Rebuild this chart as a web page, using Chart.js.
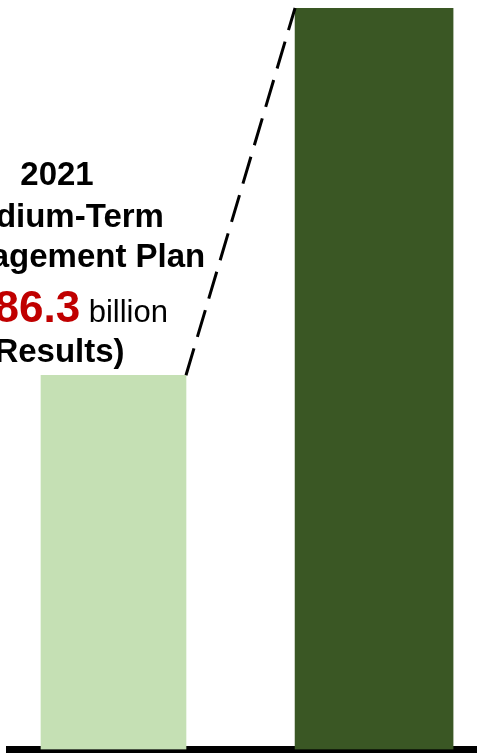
<!DOCTYPE html>
<html>
<head>
<meta charset="utf-8">
<title>Medium-Term Management Plan</title>
<script src="https://cdn.jsdelivr.net/npm/chart.js@4/dist/chart.umd.min.js"></script>
<style>
    html, body { margin: 0; padding: 0; background: #fff; }
    #wrap { width: 477px; height: 753px; position: relative; }
</style>
</head>
<body>
<div id="wrap"><canvas id="plan-chart"></canvas></div>
<script>
// Plans shown left to right and their amounts (billion yen)
const categories = ["2021 Medium-Term Management Plan", "Next Medium-Term Management Plan"];
const values = [86.3, 171];
const barColors = ["#c5e0b4", "#3a5724"];
const barWidths = [145, 158];

// Caption above the first bar
const captionLines = ["2021", "Medium-Term", "Management Plan"];
const captionValue = "86.3";
const captionUnit = "billion";
const captionNote = "(Results)";

document.addEventListener("DOMContentLoaded", function() {
    const ctx = document.getElementById("plan-chart").getContext("2d");
    const FONT = "'Liberation Sans', Arial, sans-serif";

    // dashed line joining the tops of the two bars
    const connector = {
        id: "connector",
        afterDatasetsDraw(chart) {
            const a = chart.getDatasetMeta(0).data[0];
            const b = chart.getDatasetMeta(1).data[0];
            const c = chart.ctx;
            c.save();
            c.strokeStyle = "#000";
            c.lineWidth = 3;
            c.setLineDash([28, 12]);
            c.beginPath();
            c.moveTo(a.x + a.width / 2, a.y);
            c.lineTo(b.x - b.width / 2, b.y);
            c.stroke();
            c.restore();
        }
    };

    // caption text, placed relative to the first bar
    const caption = {
        id: "caption",
        afterDraw(chart) {
            const bar = chart.getDatasetMeta(0).data[0];
            const c = chart.ctx;
            const cx = bar.x - 56.5;
            const top = bar.y;
            c.save();
            c.fillStyle = "#000";
            c.textAlign = "center";
            c.textBaseline = "alphabetic";
            c.font = "bold 33px " + FONT;
            c.fillText(captionLines[0], cx, top - 190);
            c.fillText(captionLines[1], cx, top - 148);
            c.fillText(captionLines[2], cx + 8, top - 108);
            c.fillText(captionNote, cx - 3, top - 13);

            // value line: red amount followed by the unit
            const numFont = "bold 44px " + FONT;
            const unitFont = "31px " + FONT;
            c.font = numFont;
            const numText = "\u00a5" + captionValue;
            const wNum = c.measureText(numText).width;
            c.font = unitFont;
            const wSpace = c.measureText(" ").width;
            const wUnit = c.measureText(captionUnit).width;
            let x = cx + 12 - (wNum + wSpace + wUnit) / 2;
            c.textAlign = "left";
            c.font = numFont;
            c.fillStyle = "#c00000";
            c.fillText(numText, x, top - 53);
            x += wNum + wSpace;
            c.font = unitFont;
            c.fillStyle = "#000";
            c.fillText(captionUnit, x, top - 53);
            c.restore();
        }
    };

    const datasets = values.map((v, i) => ({
        label: categories[i],
        data: [{ x: i, y: v }],
        backgroundColor: barColors[i],
        barThickness: barWidths[i],
        grouped: false
    }));

    new Chart(ctx, {
        type: "bar",
        data: { datasets: datasets },
        options: {
            responsive: true,
            maintainAspectRatio: false,
            animation: false,
            layout: { padding: { top: 8, left: 9, right: 0, bottom: 3.5 } },
            plugins: {
                legend: { display: false },
                tooltip: { enabled: false }
            },
            scales: {
                x: {
                    type: "linear",
                    offset: false,
                    min: -0.401,
                    max: 1.395,
                    z: 1,
                    ticks: { display: false },
                    grid: { display: false, drawTicks: false },
                    border: { display: true, color: "#000", width: 7 }
                },
                y: {
                    display: false,
                    min: 0,
                    max: Math.max(...values)
                }
            }
        },
        plugins: [connector, caption]
    });
});
</script>
</body>
</html>
